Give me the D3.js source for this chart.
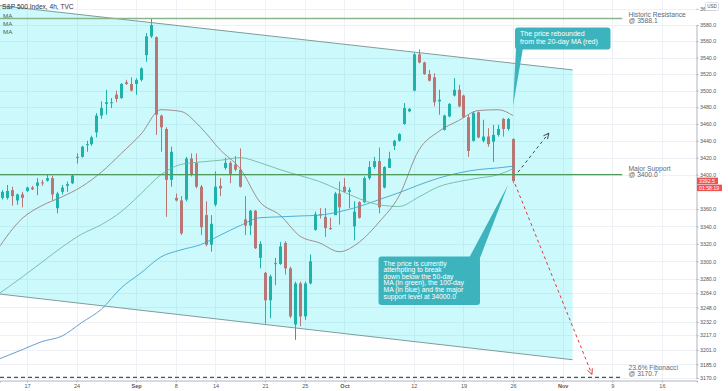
<!DOCTYPE html>
<html>
<head>
<meta charset="utf-8">
<script src="https://cdn.jsdelivr.net/npm/d3@7"></script>
<style>
  body { margin: 0; background: #fff; }
  svg { display: block; font-family: "Liberation Sans", Arial, sans-serif; }
</style>
</head>
<body>
<svg id="chart" width="728" height="391"></svg>
<script>
// S&P 500 Index, 4h bars. bar index 0 = first bar of Aug 17
var firstBar = -5;
var opens  = [3373,3373,3382,3370,3377,3381,3385,3387,3391,3393,3396,3361,3380,3387,3390,3420,3421,3435,3436,3450,3470,3484,3485,3495,3491,3510,3508,3508,3513,3543,3566,3565,3470,3454,3394,3373,3370,3371,3419,3414,3386,3353,3319,3365,3387,3408,3414,3412,3406,3348,3341,3358,3304,3287,3256,3297,3297,3321,3292,3229,3275,3238,3275,3336,3354,3351,3338,3353,3378,3386,3380,3340,3368,3368,3396,3409,3416,3385,3408,3434,3440,3460,3475,3500,3544,3534,3520,3516,3487,3453,3469,3494,3501,3494,3468,3440,3474,3440,3445,3439,3447,3466,3454,3442];
var highs  = [3382,3388,3386,3378,3380,3386,3387,3396,3394,3400,3399,3380,3388,3392,3400,3425,3434,3440,3446,3473,3487,3501,3491,3500,3509,3513,3516,3515,3528,3570,3588,3566,3471,3456,3433,3378,3375,3421,3425,3425,3388,3369,3353,3404,3396,3420,3416,3422,3431,3375,3359,3359,3323,3288,3285,3304,3322,3323,3294,3277,3277,3277,3308,3357,3361,3361,3350,3380,3392,3396,3385,3369,3369,3398,3416,3421,3432,3410,3427,3441,3449,3485,3479,3546,3550,3535,3525,3521,3501,3471,3485,3515,3507,3495,3471,3475,3475,3465,3455,3459,3459,3467,3467,3443];
var lows   = [3371,3371,3364,3365,3362,3380,3382,3376,3387,3392,3370,3355,3377,3380,3389,3413,3420,3427,3434,3444,3466,3471,3479,3486,3490,3507,3499,3495,3511,3535,3564,3447,3427,3351,3386,3369,3330,3369,3398,3384,3330,3317,3311,3363,3375,3406,3390,3404,3385,3330,3330,3314,3292,3230,3236,3273,3296,3285,3236,3212,3227,3234,3274,3335,3349,3328,3336,3353,3342,3379,3361,3324,3349,3367,3394,3407,3355,3384,3408,3429,3439,3459,3474,3499,3533,3519,3511,3481,3471,3452,3468,3493,3480,3467,3421,3439,3443,3438,3433,3415,3445,3445,3452,3390];
var closes = [3380,3381,3375,3377,3373,3385,3383,3391,3390,3396,3377,3378,3385,3389,3399,3421,3433,3436,3444,3470,3479,3486,3486,3490,3508,3508,3500,3513,3527,3566,3580,3471,3456,3394,3427,3370,3332,3419,3400,3386,3339,3319,3343,3386,3384,3414,3401,3406,3386,3341,3358,3315,3320,3256,3283,3298,3317,3292,3238,3275,3238,3275,3300,3354,3353,3338,3337,3378,3362,3380,3382,3357,3350,3396,3409,3416,3362,3409,3419,3440,3448,3479,3478,3544,3534,3520,3512,3486,3489,3470,3484,3501,3481,3468,3428,3473,3444,3445,3436,3447,3454,3454,3466,3392.5];

// moving averages read at these bar indices
var maBars = [-6,-1,3,7,11,15,19,23,27,31,35,39,43,47,51,55,59,63,67,71,75,79,83,87,91,95,98];
var ma20  = [3313,3349,3364,3374,3386,3403,3425,3448,3477,3475,3456,3429,3407,3368,3353,3329,3321,3311,3322,3345,3375,3429,3451,3464,3476,3477,3470];
var ma50  = [3262,3282,3299,3316,3331,3342,3357,3378,3400,3412,3415,3417,3420,3414,3406,3399,3392,3382,3372,3365,3363,3374,3386,3392,3396,3400,3407];
var ma100 = [3190,3201,3210,3216,3231,3246,3270,3287,3305,3313,3319,3330,3341,3350,3351,3352,3353,3357,3363,3371,3379,3388,3396,3402,3406,3408,3410];

// axes
var xTickBars   = [0,10,22,30,38,48,56,64,78,88,98,108,118,128];
var xTickLabels = ["17","24","Sep","8","14","21","25","Oct","12","19","26","Nov","9","16"];
var yTicks = [3600,3580,3560,3540,3520,3500,3480,3460,3440,3420,3400,3360,3340,3320,3300,3280,3264,3248,3232,3217,3201,3185,3170];

// drawings
var resistance = 3588.1, support = 3400.0, fibo = 3170.7;
var channelTop    = [[-5.44, 3604], [110, 3525]];
var channelBottom = [[-5.44, 3263], [110, 3190]];
var levelEnd = 120;
var downArrow = [[98.4, 3389], [113.9, 3174]];
var upArrow   = [[99, 3403], [105.2, 3449]];
var lastPrice = 3392.5, countdown = "01:58:19";

var plotW = 697, plotH = 380;
var svg = d3.select("#chart");
var x = d3.scaleLinear().domain([-5.44, 135.08]).range([0, plotW]);
var y = d3.scaleLog().domain([3580, 3170]).range([25, 378]);

svg.append("defs").append("clipPath").attr("id", "plot")
  .append("rect").attr("width", plotW).attr("height", plotH);

// grid
var grid = svg.append("g").attr("clip-path", "url(#plot)");
grid.selectAll(".vg").data(xTickBars).enter().append("line")
  .attr("x1", d => Math.round(x(d)) + 0.5).attr("x2", d => Math.round(x(d)) + 0.5)
  .attr("y1", 0).attr("y2", plotH)
  .attr("stroke", "#eef1f5").attr("stroke-width", 1);
grid.selectAll(".hg").data(yTicks).enter().append("line")
  .attr("y1", d => Math.round(y(d)) + 0.5).attr("y2", d => Math.round(y(d)) + 0.5)
  .attr("x1", 0).attr("x2", plotW)
  .attr("stroke", "#eef1f5").attr("stroke-width", 1);

var plot = svg.append("g").attr("clip-path", "url(#plot)");

// candles
var bars = d3.range(opens.length).map(function (k) {
  return { i: firstBar + k, o: opens[k], h: highs[k], l: lows[k], c: closes[k] };
});
var upCol = "#26a69a", downCol = "#e65a55";
plot.selectAll(".wick").data(bars).enter().append("line")
  .attr("x1", d => Math.round(x(d.i)) + 0.5).attr("x2", d => Math.round(x(d.i)) + 0.5)
  .attr("y1", d => y(d.h)).attr("y2", d => y(d.l))
  .attr("stroke", d => d.c >= d.o ? upCol : downCol).attr("stroke-width", 1);
plot.selectAll(".body").data(bars).enter().append("rect")
  .attr("x", d => Math.round(x(d.i)) - 1)
  .attr("width", 3)
  .attr("y", d => y(Math.max(d.o, d.c)))
  .attr("height", d => Math.max(1, y(Math.min(d.o, d.c)) - y(Math.max(d.o, d.c))))
  .attr("fill", d => d.c >= d.o ? upCol : downCol);

// moving averages
var maLine = d3.line().x(d => x(d[0])).y(d => y(d[1])).curve(d3.curveMonotoneX);
[[ma100, "#4a8fc6"], [ma50, "#86a98a"], [ma20, "#b8625c"]].forEach(function (m) {
  plot.append("path")
    .datum(maBars.map((b, k) => [b, m[0][k]]))
    .attr("d", maLine).attr("fill", "none")
    .attr("stroke", m[1]).attr("stroke-width", 0.85);
});

// channel
var chan = channelTop.concat(channelBottom.slice().reverse());
plot.append("polygon")
  .attr("points", chan.map(p => x(p[0]) + "," + y(p[1])).join(" "))
  .attr("fill", "rgba(0,228,238,0.2)");
[channelTop, channelBottom].forEach(function (c) {
  plot.append("line")
    .attr("x1", x(c[0][0])).attr("y1", y(c[0][1]))
    .attr("x2", x(c[1][0])).attr("y2", y(c[1][1]))
    .attr("stroke", "#7f9c9c").attr("stroke-width", 1);
});

// horizontal levels
[[resistance, "#8ab58a", null, 1.4], [support, "#4f9a5a", null, 1.2], [fibo, "#3f5f52", "4,3", 1.1]].forEach(function (l) {
  plot.append("line")
    .attr("x1", 0).attr("x2", x(levelEnd))
    .attr("y1", y(l[0])).attr("y2", y(l[0]))
    .attr("stroke", l[1]).attr("stroke-width", l[3])
    .attr("stroke-dasharray", l[2]);
});

// forecast arrows
function arrow(pts, col) {
  var x1 = x(pts[0][0]), y1 = y(pts[0][1]), x2 = x(pts[1][0]), y2 = y(pts[1][1]);
  plot.append("line").attr("x1", x1).attr("y1", y1).attr("x2", x2).attr("y2", y2)
    .attr("stroke", col).attr("stroke-width", 1).attr("stroke-dasharray", "3,3");
  var a = Math.atan2(y2 - y1, x2 - x1), len = 6, sp = 0.45;
  var head = [[x2 - len * Math.cos(a - sp), y2 - len * Math.sin(a - sp)], [x2, y2],
              [x2 - len * Math.cos(a + sp), y2 - len * Math.sin(a + sp)]];
  plot.append("polyline").attr("points", head.map(p => p.join(",")).join(" "))
    .attr("fill", "none").attr("stroke", col).attr("stroke-width", 1);
}
arrow(downArrow, "#e0393e");
arrow(upArrow, "#3a4d4a");

// callouts
function callout(box, tail, lines, fs, lh, top) {
  var g = svg.append("g");
  g.append("polygon").attr("points", tail.map(p => p.join(",")).join(" ")).attr("fill", "#3db4bd");
  g.append("rect").attr("x", box[0]).attr("y", box[1]).attr("width", box[2]).attr("height", box[3])
    .attr("rx", 3).attr("fill", "#3db4bd");
  g.selectAll("text").data(lines).enter().append("text")
    .attr("x", box[0] + 5).attr("y", (d, k) => box[1] + top + k * lh)
    .attr("font-size", fs).attr("fill", "#fff").text(d => d);
}
callout([515, 27.5, 95.5, 22], [[516, 48], [523, 48], [513, 106]],
  ["The price rebounded", "from the 20-day MA (red)"], 7, 7.4, 8.6);
callout([378.5, 256.5, 101.5, 48.5], [[469, 258], [480, 258], [508, 185]],
  ["The price is currently", "attempting to break", "down below the 50-day",
   "MA (in green), the 100-day", "MA (in blue) and the major", "support level at 34000.0"], 6.8, 6.6, 9);

// level labels
var lab = svg.append("g").attr("font-size", 6.7).attr("fill", "#5a6a7a");
[[["Historic Resistance", "@ 3588.1"], 16.5], [["Major Support", "@ 3400.0"], 171], [["23.6% Fibonacci", "@ 3170.7"], 369.5]]
  .forEach(function (t) {
    t[0].forEach(function (s, k) {
      lab.append("text").attr("x", 628.5).attr("y", t[1] + k * 6.4).text(s);
    });
  });

// legend
svg.append("text").attr("x", 2).attr("y", 9).attr("font-size", 6.6).attr("fill", "#333")
  .text("S&P 500 Index, 4h, TVC");
["MA", "MA", "MA"].forEach(function (s, k) {
  svg.append("text").attr("x", 3).attr("y", 17.5 + k * 8).attr("font-size", 6.2).attr("fill", "#555").text(s);
});

// axes
svg.append("rect").attr("x", plotW).attr("y", 0).attr("width", 728 - plotW).attr("height", 391).attr("fill", "#fff");
svg.append("rect").attr("x", 0).attr("y", plotH).attr("width", 728).attr("height", 391 - plotH).attr("fill", "#fff");

var yAxis = svg.append("g").attr("transform", "translate(" + (plotW - 0.5) + ",0)")
  .call(d3.axisRight(y).tickValues(yTicks).tickFormat(d3.format(".1f")).tickSize(2).tickPadding(1.5));
yAxis.select(".domain").attr("stroke", "#b2b5be");
yAxis.selectAll(".tick line").attr("stroke", "#b2b5be");
yAxis.selectAll("text").attr("font-size", 5.3).attr("fill", "#555").attr("font-family", "Liberation Sans, Arial");

var xAxis = svg.append("g").attr("transform", "translate(0," + (plotH + 0.5) + ")")
  .call(d3.axisBottom(x).tickValues(xTickBars).tickFormat((d, k) => xTickLabels[k]).tickSize(2).tickPadding(2));
xAxis.select(".domain").attr("stroke", "#b2b5be");
xAxis.selectAll(".tick line").attr("stroke", "#b2b5be");
xAxis.selectAll("text").attr("font-size", 5.5).attr("fill", "#555").attr("font-family", "Liberation Sans, Arial")
  .attr("font-weight", (d, k) => /[A-Za-z]/.test(xTickLabels[k]) ? "bold" : null);

// currency tag
svg.append("rect").attr("x", 705.5).attr("y", 2.5).attr("width", 13).attr("height", 8)
  .attr("fill", "#fff").attr("stroke", "#c9ccd3").attr("stroke-width", 0.6).attr("rx", 1);
svg.append("text").attr("x", 712).attr("y", 8.3).attr("text-anchor", "middle")
  .attr("font-size", 4.6).attr("fill", "#555").text("USD");

// last price tag
var ly = y(lastPrice);
svg.append("rect").attr("x", 697).attr("y", ly - 3.5).attr("width", 21).attr("height", 6.5).attr("fill", "#ef5350");
svg.append("text").attr("x", 699).attr("y", ly + 1.8).attr("font-size", 5.2).attr("fill", "#fff").text(d3.format(".1f")(lastPrice));
svg.append("rect").attr("x", 697).attr("y", ly + 3.5).attr("width", 25).attr("height", 6.5).attr("fill", "#ef5350");
svg.append("text").attr("x", 699).attr("y", ly + 8.8).attr("font-size", 5.2).attr("fill", "#fff").text(countdown);
</script>
</body>
</html>
